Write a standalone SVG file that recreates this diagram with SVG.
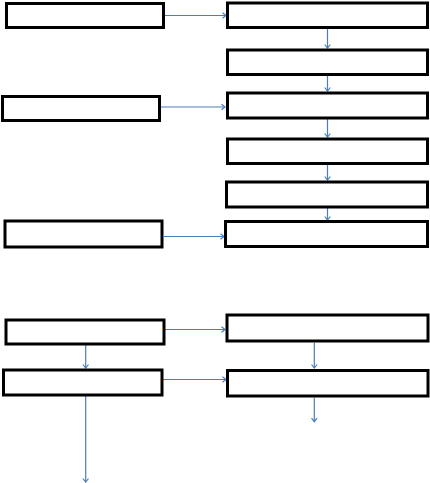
<svg xmlns="http://www.w3.org/2000/svg" width="430" height="483" viewBox="0 0 430 483">
<style>
.box{fill:#fff;stroke:#000;stroke-width:3}
.c{stroke:#4a7ebb;stroke-width:1.2;fill:none;marker-end:url(#ah)}
</style>
<defs>
<marker id="ah" markerUnits="userSpaceOnUse" markerWidth="8" markerHeight="8" refX="4.5" refY="4" orient="auto">
<path d="M1,1.2 L4.5,4 L1,6.8" fill="none" stroke="#4a7ebb" stroke-width="1.2"/>
</marker>
</defs>
<rect width="430" height="483" fill="#fff"/>
<g id="connectors">
<line class="c" x1="165" y1="15.5" x2="226" y2="15.5"/>
<line class="c" x1="160" y1="107" x2="225" y2="107"/>
<line class="c" x1="327.5" y1="29" x2="327.5" y2="48"/>
<line class="c" x1="327.5" y1="76" x2="327.5" y2="91"/>
<line class="c" x1="327.5" y1="119" x2="327.5" y2="137"/>
<line class="c" x1="327.5" y1="165" x2="327.5" y2="180"/>
<line class="c" x1="327.5" y1="208" x2="327.5" y2="220"/>
<line class="c" x1="164" y1="236.5" x2="224" y2="236.5"/>
<line class="c" x1="165" y1="329.5" x2="225" y2="329.5"/>
<line class="c" x1="163" y1="379.5" x2="226" y2="379.5"/>
<line class="c" x1="85.7" y1="345" x2="85.7" y2="368"/>
<line class="c" x1="85.7" y1="396" x2="85.7" y2="482"/>
<line class="c" x1="314.3" y1="342.7" x2="314.3" y2="368"/>
<line class="c" x1="314.3" y1="397.7" x2="314.3" y2="421.7"/>
</g>
<g id="L1"><rect class="box" x="6.5" y="3.5" width="157" height="24"/></g>
<g id="L2"><rect class="box" x="2.5" y="96.5" width="157" height="24"/></g>
<g id="L3"><rect class="box" x="5" y="221" width="157" height="26"/></g>
<g id="L4"><rect class="box" x="6" y="320" width="158" height="24"/></g>
<g id="L5"><rect class="box" x="3.5" y="370" width="158.5" height="25"/></g>
<g id="R1"><rect class="box" x="227.5" y="3" width="200" height="24.5"/></g>
<g id="R2"><rect class="box" x="227.5" y="50" width="200" height="24.5"/></g>
<g id="R3"><rect class="box" x="227.5" y="93" width="200" height="25"/></g>
<g id="R4"><rect class="box" x="227.5" y="139" width="200" height="24.5"/></g>
<g id="R5"><rect class="box" x="226.5" y="182" width="201" height="25"/></g>
<g id="R6"><rect class="box" x="225.5" y="221.5" width="202" height="25"/></g>
<g id="R7"><rect class="box" x="227" y="315" width="201" height="26"/></g>
<g id="R8"><rect class="box" x="227.5" y="370.5" width="200.5" height="25.5"/></g>
</svg>
